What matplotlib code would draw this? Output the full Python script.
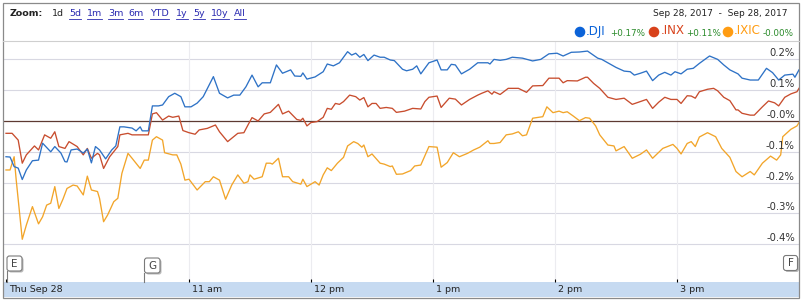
import matplotlib
matplotlib.use("Agg")
import matplotlib.pyplot as plt
from matplotlib.patches import Rectangle, FancyBboxPatch, Circle

# ---------------- data ----------------
# minutes after 9:30 (Thu Sep 28, 2017) and % change
dji_min = [0, 2, 4, 6, 8, 10, 13, 16, 18, 22, 24, 27, 29, 30, 32, 35, 38, 40, 42, 44, 46, 49, 52, 54, 56, 58,
           62, 64, 66, 67, 70, 72, 75, 77, 80, 83, 86, 88, 91, 94, 97, 102, 105, 109, 112, 115, 118, 121, 124,
           126, 130, 133, 136, 140, 142, 145, 146, 148, 152, 156, 158, 161, 164, 168, 170, 172, 174, 176, 178,
           181, 184, 186, 189, 191, 195, 197, 200, 202, 204, 208, 212, 214, 217, 219, 221, 224, 228, 232, 237,
           238, 240, 243, 246, 249, 254, 259, 263, 267, 271, 274, 278, 282, 286, 291, 293, 296, 300, 304, 307,
           309, 312, 315, 318, 321, 324, 327, 329, 332, 335, 338, 341, 346, 350, 353, 356, 360, 362, 366, 370,
           374, 377, 380, 383, 387, 388, 390]
dji_pct = [-0.116, -0.117, -0.148, -0.153, -0.19, -0.159, -0.129, -0.127, -0.072, -0.1, -0.083, -0.104, -0.132,
           -0.133, -0.094, -0.091, -0.104, -0.091, -0.136, -0.083, -0.094, -0.123, -0.094, -0.081, -0.019, -0.019,
           -0.023, -0.032, -0.019, -0.032, -0.032, 0.049, 0.049, 0.052, 0.079, 0.09, 0.079, 0.046, 0.046, 0.058,
           0.079, 0.144, 0.09, 0.075, 0.084, 0.084, 0.111, 0.149, 0.111, 0.124, 0.124, 0.182, 0.155, 0.166, 0.146,
           0.145, 0.156, 0.136, 0.143, 0.16, 0.185, 0.179, 0.189, 0.225, 0.214, 0.22, 0.207, 0.216, 0.196, 0.214,
           0.207, 0.207, 0.198, 0.196, 0.168, 0.163, 0.168, 0.179, 0.153, 0.189, 0.198, 0.166, 0.166, 0.184, 0.182,
           0.153, 0.168, 0.189, 0.189, 0.185, 0.2, 0.197, 0.2, 0.207, 0.204, 0.195, 0.2, 0.218, 0.22, 0.211, 0.223,
           0.224, 0.227, 0.204, 0.2, 0.189, 0.174, 0.162, 0.16, 0.149, 0.155, 0.162, 0.131, 0.149, 0.158, 0.149,
           0.16, 0.153, 0.168, 0.171, 0.187, 0.211, 0.2, 0.182, 0.166, 0.153, 0.139, 0.133, 0.133, 0.171, 0.157,
           0.133, 0.149, 0.152, 0.142, 0.166]

inx_min = [0, 3, 6, 8, 10, 14, 16, 19, 22, 24, 26, 29, 31, 35, 38, 40, 42, 45, 46, 48, 51, 55, 56, 60, 62, 70,
           72, 74, 77, 80, 82, 85, 87, 90, 93, 95, 99, 103, 105, 109, 112, 114, 117, 119, 121, 124, 127, 130, 134,
           136, 139, 143, 145, 146, 148, 150, 153, 156, 158, 160, 162, 164, 166, 169, 172, 174, 176, 178, 180,
           182, 184, 187, 190, 192, 196, 200, 204, 206, 208, 212, 214, 218, 221, 224, 228, 232, 234, 237, 239,
           240, 243, 247, 252, 256, 259, 264, 267, 272, 274, 276, 281, 285, 286, 289, 292, 296, 300, 304, 308,
           312, 315, 318, 321, 324, 327, 330, 332, 335, 337, 339, 341, 345, 348, 350, 353, 356, 359, 360, 362,
           366, 368, 372, 375, 378, 380, 383, 386, 389, 390]
inx_pct = [-0.04, -0.04, -0.062, -0.137, -0.11, -0.081, -0.094, -0.045, -0.056, -0.035, -0.083, -0.089, -0.067,
           -0.083, -0.11, -0.089, -0.121, -0.105, -0.11, -0.154, -0.116, -0.083, -0.045, -0.04, -0.045, -0.045,
           0.023, 0.027, 0.003, 0.016, 0.012, 0.016, -0.031, -0.038, -0.043, -0.029, -0.024, -0.013, -0.035,
           -0.067, -0.051, -0.04, -0.038, -0.013, 0.011, 0.0, 0.023, 0.028, 0.054, 0.023, 0.032, 0.005, 0.002,
           0.009, -0.016, -0.005, -0.002, 0.012, 0.041, 0.038, 0.057, 0.054, 0.063, 0.084, 0.079, 0.068, 0.076,
           0.046, 0.057, 0.057, 0.041, 0.044, 0.041, 0.028, 0.032, 0.041, 0.039, 0.063, 0.077, 0.081, 0.044,
           0.074, 0.071, 0.052, 0.07, 0.084, 0.09, 0.098, 0.087, 0.095, 0.086, 0.106, 0.106, 0.093, 0.114, 0.115,
           0.139, 0.139, 0.124, 0.131, 0.13, 0.142, 0.142, 0.122, 0.106, 0.077, 0.07, 0.074, 0.054, 0.063, 0.07,
           0.041, 0.061, 0.077, 0.07, 0.07, 0.057, 0.082, 0.081, 0.074, 0.095, 0.103, 0.106, 0.098, 0.077, 0.066,
           0.036, 0.036, 0.025, 0.019, 0.019, 0.046, 0.065, 0.059, 0.049, 0.077, 0.088, 0.095, 0.106]

ixic_min = [0, 2, 4, 5, 8, 10, 13, 16, 18, 20, 22, 24, 26, 28, 30, 33, 35, 38, 40, 42, 45, 46, 48, 50, 53, 55,
            57, 60, 62, 66, 68, 70, 72, 74, 77, 78, 82, 84, 86, 88, 90, 94, 98, 100, 102, 105, 108, 111, 114, 117,
            119, 120, 122, 126, 128, 130, 131, 134, 136, 139, 141, 145, 146, 148, 152, 154, 156, 158, 160, 163,
            166, 168, 171, 173, 175, 176, 178, 180, 184, 186, 189, 190, 192, 195, 199, 201, 204, 208, 212, 214,
            217, 220, 223, 227, 230, 233, 237, 238, 240, 243, 246, 249, 252, 254, 256, 259, 264, 266, 269, 272,
            274, 276, 279, 282, 285, 287, 290, 292, 296, 299, 300, 304, 308, 312, 315, 318, 323, 328, 330, 332,
            335, 337, 339, 341, 345, 349, 352, 356, 359, 362, 366, 368, 372, 376, 379, 381, 382, 386, 389, 390]
ixic_pct = [-0.159, -0.159, -0.116, -0.19, -0.384, -0.338, -0.278, -0.334, -0.311, -0.273, -0.267, -0.213,
            -0.284, -0.254, -0.219, -0.208, -0.211, -0.24, -0.179, -0.224, -0.229, -0.251, -0.327, -0.305, -0.262,
            -0.251, -0.17, -0.105, -0.121, -0.154, -0.127, -0.127, -0.062, -0.051, -0.062, -0.103, -0.11, -0.11,
            -0.14, -0.192, -0.189, -0.224, -0.197, -0.197, -0.181, -0.192, -0.254, -0.208, -0.175, -0.202, -0.197,
            -0.175, -0.189, -0.181, -0.137, -0.137, -0.14, -0.121, -0.181, -0.181, -0.197, -0.205, -0.189, -0.213,
            -0.197, -0.208, -0.175, -0.152, -0.161, -0.137, -0.118, -0.081, -0.067, -0.073, -0.085, -0.078,
            -0.116, -0.107, -0.137, -0.14, -0.148, -0.146, -0.173, -0.172, -0.161, -0.146, -0.143, -0.083, -0.085,
            -0.15, -0.135, -0.103, -0.116, -0.105, -0.094, -0.085, -0.064, -0.073, -0.073, -0.07, -0.045, -0.042,
            -0.035, -0.048, -0.045, 0.009, 0.014, 0.046, 0.027, 0.032, 0.027, 0.03, 0.016, 0.001, 0.011, 0.009,
            -0.016, -0.045, -0.078, -0.081, -0.097, -0.083, -0.121, -0.108, -0.094, -0.121, -0.089, -0.076, -0.089,
            -0.107, -0.073, -0.067, -0.083, -0.052, -0.038, -0.051, -0.089, -0.118, -0.164, -0.181, -0.164,
            -0.175, -0.137, -0.114, -0.127, -0.11, -0.051, -0.027, -0.016, -0.005]

series_names = ['.DJI', '.INX', '.IXIC']
series_change = ['+0.17%', '+0.11%', '-0.00%']
line_colors = ['#2e72c6', '#c84d2e', '#f2a52a']
dot_colors = ['#0b63d8', '#d8421b', '#ff9c12']

y_ticks = [0.2, 0.1, 0.0, -0.1, -0.2, -0.3, -0.4]
y_tick_labels = ['0.2%', '0.1%', '-0.0%', '-0.1%', '-0.2%', '-0.3%', '-0.4%']
x_ticks = [0, 90, 150, 210, 270, 330]
x_tick_labels = ['Thu Sep 28', '11 am', '12 pm', '1 pm', '2 pm', '3 pm']
zoom_links = ['5d', '1m', '3m', '6m', 'YTD', '1y', '5y', '10y', 'All']
date_range = 'Sep 28, 2017  -  Sep 28, 2017'

# ---------------- figure ----------------
W, H = 803, 301
fig = plt.figure(figsize=(W / 100, H / 100), dpi=100)
fig.patch.set_facecolor('white')
plt.rcParams['font.family'] = ['DejaVu Sans']

ax_l, ax_r, ax_t, ax_b = 4, 799, 41, 282
ax = fig.add_axes([ax_l / W, (H - ax_b) / H, (ax_r - ax_l) / W, (ax_b - ax_t) / H])
ax.set_xlim(-0.98, 390.0)
ax.set_ylim(-0.5227, 0.2597)
for s in ax.spines.values():
    s.set_visible(False)

# grid
for v in y_ticks:
    if v == 0:
        ax.axhline(v, color='#5e3a32', lw=0.9, zorder=2)
    else:
        ax.axhline(v, color='#d8d8e2', lw=0.8, zorder=1)
for t in x_ticks[1:]:
    ax.axvline(t, color='#ececf0', lw=0.8, zorder=1)

# series
ax.plot(ixic_min, ixic_pct, color=line_colors[2], lw=0.95, zorder=3)
ax.plot(inx_min, inx_pct, color=line_colors[1], lw=0.95, zorder=4)
ax.plot(dji_min, dji_pct, color=line_colors[0], lw=0.95, zorder=5)

# ticks
ax.set_xticks(x_ticks)
ax.set_yticks([])
ax.tick_params(axis='x', direction='in', length=2.4, width=0.8, color='black',
               labelbottom=False)

# bottom band
band_h = 15 / (ax_b - ax_t)
ax.add_patch(Rectangle((0, -band_h), 1, band_h, transform=ax.transAxes, clip_on=False,
                       facecolor='#c6daf1', edgecolor='none', zorder=0))
for t, lab in zip(x_ticks, x_tick_labels):
    ax.annotate(lab, xy=(t, 0), xycoords=('data', 'axes fraction'), xytext=(2.3, -5.3),
                textcoords='offset points', ha='left', va='center', fontsize=6.8,
                color='#222222', annotation_clip=False)

# y labels
for v, lab in zip(y_ticks, y_tick_labels):
    ax.annotate(lab, xy=(1, v), xycoords=('axes fraction', 'data'), xytext=(-3.0, 4.3),
                textcoords='offset points', ha='right', va='center', fontsize=7.2,
                color='#333333', zorder=6)

# ---------------- overlay (pixel coords) ----------------
ov = fig.add_axes([0, 0, 1, 1], zorder=10)
ov.set_xlim(0, W)
ov.set_ylim(H, 0)
ov.axis('off')

# outer border and plot top line
ov.add_patch(Rectangle((3, 2.8), 796.5, 294.7, fill=False, edgecolor='#8a8a8a', lw=0.9))
ov.plot([3, 799.5], [41, 41], color='#cfcfcf', lw=0.8)

# header zoom links
ov.text(10, 14, 'Zoom:', fontsize=6.8, fontweight='bold', color='#222222', va='center', ha='left')
ov.text(52, 14, '1d', fontsize=6.8, color='#222222', va='center', ha='left')
link_x = [69, 87, 108, 128, 150, 176, 193, 211, 234]
fig.canvas.draw()
renderer = fig.canvas.get_renderer()
for lab, x in zip(zoom_links, link_x):
    t = ov.text(x, 14, lab, fontsize=6.8, color='#2a2ab0', va='center', ha='left')
    bb = t.get_window_extent(renderer=renderer)
    ov.plot([x, x + bb.width], [19.3, 19.3], color='#2a2ab0', lw=0.6)

# date range
ov.text(788, 14, date_range, fontsize=6.5, color='#222222', va='center', ha='right')

# legend
dot_x = [580, 654, 728]
name_x = [586, 661, 734]
chg_x = [610, 686, 763]
for i in range(3):
    ov.add_patch(Circle((dot_x[i], 32), 5.3, facecolor=dot_colors[i], edgecolor='none'))
    ov.text(name_x[i], 31, series_names[i], fontsize=8.6, color=dot_colors[i], va='center', ha='left')
    ov.text(chg_x[i], 33.5, series_change[i], fontsize=6.3, color='#2a8a2a', va='center', ha='left')

# flags
def flag(x, y, w, h, letter, pole=True):
    ov.add_patch(FancyBboxPatch((x + 1.5, y + 1.5), w, h, boxstyle='round,pad=0,rounding_size=2.5',
                                facecolor='#b8b8b8', edgecolor='none'))
    ov.add_patch(FancyBboxPatch((x, y), w, h, boxstyle='round,pad=0,rounding_size=2.5',
                                facecolor='white', edgecolor='#7a7a7a', lw=0.8))
    ov.text(x + w / 2, y + h / 2 + 0.5, letter, fontsize=7.5, color='#444444', ha='center', va='center')
    if pole:
        ov.plot([x, x], [y + h, 282], color='#7a7a7a', lw=0.8)

flag(7, 256, 15, 15, 'E')
flag(144.5, 258, 15.5, 15, 'G')
flag(783.5, 255.5, 14, 15, 'F', pole=False)

fig.savefig('out.png', dpi=100, facecolor='white')
